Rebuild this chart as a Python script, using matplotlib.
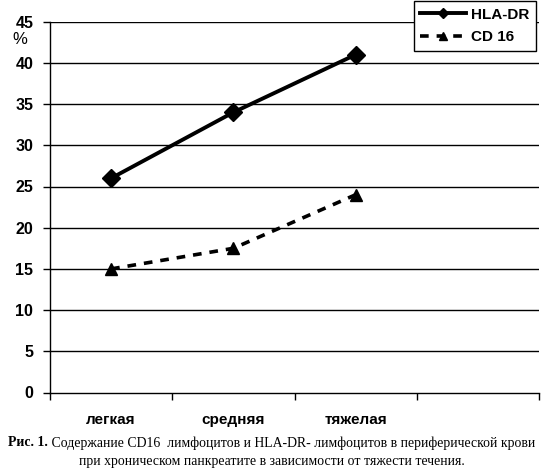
import matplotlib
matplotlib.use('Agg')
import matplotlib.pyplot as plt

# data
categories = ['легкая', 'средняя', 'тяжелая']
hla_dr = [26, 34, 41]
cd16 = [15, 17.5, 24]
y_ticks = [0, 5, 10, 15, 20, 25, 30, 35, 40, 45]

caption_head = 'Рис. 1.'
caption_1 = ' Содержание CD16  лимфоцитов и HLA-DR- лимфоцитов в периферической крови'
caption_2 = 'при хроническом панкреатите в зависимости от тяжести течения.'

plt.rcParams['font.family'] = ['Liberation Sans', 'DejaVu Sans']

fig = plt.figure(figsize=(5.43, 4.70), dpi=100)
ax = fig.add_axes([50 / 543, 1 - 392.5 / 470, 489 / 543, 370.8 / 470])

x = list(range(len(categories)))
ax.plot(x, hla_dr, color='black', lw=2.8, marker='D', ms=9, label='HLA-DR')
ax.plot(x, cd16, color='black', lw=2.6, ls=(0, (2.4, 2.2)), marker='^', ms=9,
        label='CD 16')

ax.set_xlim(-0.5, 3.5)
ax.set_ylim(0, 45)
ax.set_yticks(y_ticks)
ax.set_yticklabels([str(v) for v in y_ticks], fontweight='bold', fontsize=11.5)
ax.set_xticks([-0.5, 0.5, 1.5, 2.5, 3.5])
ax.set_xticklabels([])
ax.set_xticks(x, minor=True)
ax.set_xticklabels(categories, minor=True, fontweight='bold', fontsize=11)
ax.tick_params(axis='x', which='minor', length=0, pad=15)
ax.tick_params(axis='both', which='major', length=5, width=1, color='black')
ax.tick_params(axis='y', pad=7)

for v in y_ticks[1:]:
    ax.axhline(v, color='black', lw=1, zorder=0)

for side in ['top', 'right']:
    ax.spines[side].set_visible(False)
for side in ['left', 'bottom']:
    ax.spines[side].set_linewidth(1)

fig.text(12 / 543, 1 - 40 / 470, '%', fontsize=12, ha='left', va='center')

leg = ax.legend(loc='upper right', bbox_to_anchor=(0.994, 1.056), frameon=True,
                fancybox=False, edgecolor='black', framealpha=1,
                prop={'weight': 'bold', 'size': 11}, handlelength=3.0,
                markerscale=0.6, borderpad=0.45, labelspacing=0.55,
                handletextpad=0.3, borderaxespad=0)
leg.get_frame().set_linewidth(1)

# caption: bold head + regular text, centred together
fig.canvas.draw()
r = fig.canvas.get_renderer()
head = fig.text(0, 1 - 443 / 470, caption_head, ha='left', va='center',
                fontsize=9.9, family='Liberation Serif', fontweight='bold')
body = fig.text(0, 1 - 443 / 470, caption_1, ha='left', va='center',
                fontsize=9.9, family='Liberation Serif')
w_head = head.get_window_extent(r).width
w_body = body.get_window_extent(r).width
x0 = (543 - w_head - w_body) / 2
head.set_x(x0 / 543)
body.set_x((x0 + w_head) / 543)
fig.text(0.5, 1 - 461 / 470, caption_2, ha='center', va='center',
         fontsize=9.9, family='Liberation Serif')

fig.savefig('out.png', dpi=100)
